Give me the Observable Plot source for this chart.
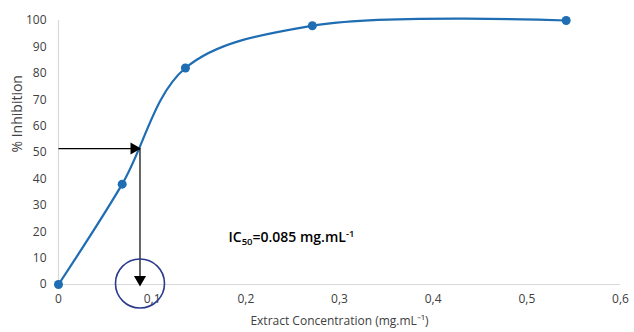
<!DOCTYPE html>
<html><head><meta charset="utf-8">
<script src="https://cdn.jsdelivr.net/npm/d3@7"></script>
<script src="https://cdn.jsdelivr.net/npm/@observablehq/plot@0.6"></script>
<style>body{margin:0;background:#fff}</style>
</head><body><div id="chart"></div>
<script>
const concentration = [0, 0.068, 0.1355, 0.271, 0.542];
const inhibition = [0, 38, 82, 98, 100];
const xTicks = [0, 0.1, 0.2, 0.3, 0.4, 0.5, 0.6];
const yTicks = [0, 10, 20, 30, 40, 50, 60, 70, 80, 90, 100];
const ic50X = 0.087;
const ic50Y = 51.5;
const labelX = 0.182;
const labelY = 16;

const data = concentration.map((c, i) => ({x: c, y: inhibition[i]}));
const font = "'Open Sans', sans-serif";
const fmt = d => d === 0 ? "0" : String(d).replace(".", ",");

const chart = Plot.plot({
  width: 634, height: 332,
  marginLeft: 58, marginRight: 14, marginTop: 20, marginBottom: 48,
  style: {fontFamily: font, fontSize: "12px", color: "#404040", background: "#fff"},
  x: {domain: [0, 0.6], ticks: xTicks, tickFormat: fmt, tickSize: 0, tickPadding: 10, label: null},
  y: {domain: [0, 100], ticks: yTicks, tickSize: 0, tickPadding: 12, label: null},
  marks: [
    Plot.ruleY([0], {stroke: "#d9d9d9", strokeWidth: 1.2, x1: 0, x2: 0.6}),
    Plot.ruleX([0], {stroke: "#d9d9d9", strokeWidth: 1.2, y1: 0, y2: 100}),
    Plot.axisX({ticks: xTicks, tickFormat: fmt, tickSize: 0, tickPadding: 10, label: null, fontSize: 12}),
    Plot.axisY({ticks: yTicks, tickSize: 0, tickPadding: 12, label: null, fontSize: 12}),
    Plot.line(data, {x: "x", y: "y", curve: "catmull-rom", stroke: "#1f6db3", strokeWidth: 2.2}),
    Plot.dot(data, {x: "x", y: "y", r: 4.5, fill: "#1f6db3"}),
    // horizontal arrow
    Plot.link([{x1: 0, y1: ic50Y, x2: ic50X, y2: ic50Y}], {x1: "x1", y1: "y1", x2: "x2", y2: "y2", stroke: "#000", strokeWidth: 1.2}),
    Plot.dot([{x: ic50X, y: ic50Y}], {x: "x", y: "y", symbol: "triangle", r: 4.5, rotate: 90, fill: "#000", dx: -6}),
    // vertical arrow
    Plot.link([{x1: ic50X, y1: ic50Y, x2: ic50X, y2: 0}], {x1: "x1", y1: "y1", x2: "x2", y2: "y2", stroke: "#000", strokeWidth: 1.2}),
    Plot.dot([{x: ic50X, y: 0}], {x: "x", y: "y", symbol: "triangle", r: 4.5, rotate: 180, fill: "#000", dy: -5}),
    // circle
    Plot.dot([{x: ic50X, y: 0}], {x: "x", y: "y", r: 24.5, fill: "none", stroke: "#2b3a8c", strokeWidth: 1.6, dy: -1}),
    // axis titles
    Plot.text(["% Inhibition"], {frameAnchor: "left", rotate: -90, dx: -41, text: d => d, fontSize: 14, fill: "#404040"}),
    Plot.text(["Extract Concentration (mg.mL⁻¹)"], {frameAnchor: "bottom", dy: 40, text: d => d, fontSize: 12, fill: "#404040"})
  ]
});
document.getElementById("chart").appendChild(chart);

// IC50 annotation with subscript/superscript as real text, positioned via the plot's scales
const xs = chart.scale("x"), ys = chart.scale("y");
const t = d3.select(chart).append("text")
  .attr("x", xs.apply(labelX)).attr("y", ys.apply(labelY))
  .attr("text-anchor", "start")
  .attr("font-family", font).attr("font-size", 14).attr("fill", "#000")
  .attr("font-weight", 600);
t.append("tspan").text("IC");
t.append("tspan").attr("font-size", 9.5).attr("dy", 3).text("50");
t.append("tspan").attr("dy", -3).text("=0.085 mg.mL");
t.append("tspan").attr("font-size", 9.5).attr("dy", -5).text("-1");
</script>
</body></html>
